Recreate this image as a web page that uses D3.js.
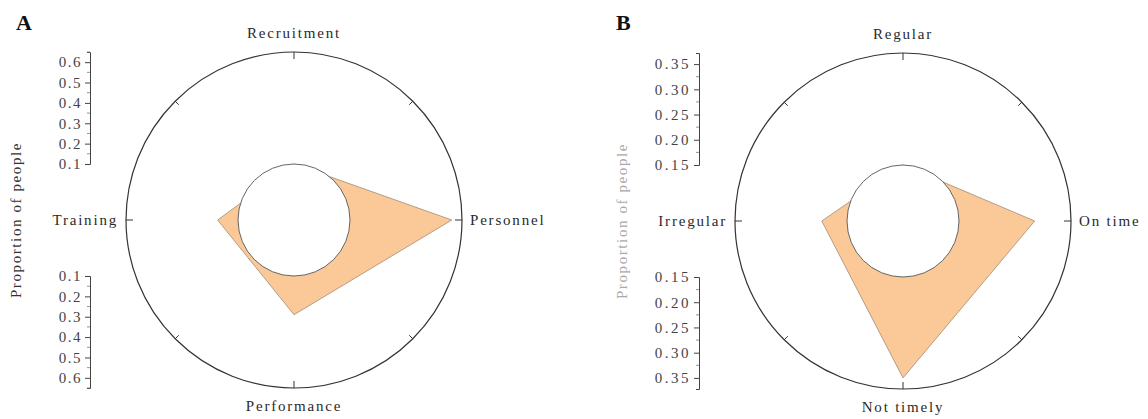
<!DOCTYPE html>
<html>
<head>
<meta charset="utf-8">
<script src="https://cdn.jsdelivr.net/npm/d3@7"></script>
<style>
  body { margin: 0; background: #fff; }
  svg { display: block; }
  text { font-family: "Liberation Serif", "DejaVu Serif", serif; }
</style>
</head>
<body>
<svg width="1148" height="419"></svg>
<script>
// panel A
const catsA = ["Recruitment", "Personnel", "Performance", "Training"];
const valsA = [0.1, 0.6, 0.29, 0.2];
const domainA = [0.1, 0.65];
const ticksA = [0.1, 0.2, 0.3, 0.4, 0.5, 0.6];
const minorA = [0.15, 0.25, 0.35, 0.45, 0.55, 0.65];
const tickFmtA = d3.format(".1f");

// panel B
const catsB = ["Regular", "On time", "Not timely", "Irregular"];
const valsB = [0.15, 0.3, 0.35, 0.2];
const domainB = [0.15, 0.372];
const ticksB = [0.15, 0.20, 0.25, 0.30, 0.35];
const minorB = [0.175, 0.225, 0.275, 0.325];
const tickFmtB = d3.format(".2f");

const svg = d3.select("svg");
const inner = 56, outer = 168;

function drawRadar(opt) {
    const g = svg.append("g");
    const cx = opt.cx, cy = opt.cy;
    const r = d3.scaleLinear().domain(opt.domain).range([inner, outer]);
    const angle = i => i * Math.PI / 2; // clockwise from top

    // panel letter
    g.append("text")
        .attr("x", opt.lx).attr("y", 30)
        .attr("font-size", 22).attr("font-weight", "bold")
        .attr("fill", "#111")
        .text(opt.letter);

    // outer ring
    g.append("circle")
        .attr("cx", cx).attr("cy", cy).attr("r", outer)
        .attr("fill", "none").attr("stroke", "#333").attr("stroke-width", 1.2);

    // ring ticks every 45 deg, pointing inward
    d3.range(8).forEach(k => {
        const a = k * Math.PI / 4;
        const len = k % 2 === 0 ? 7 : 5;
        g.append("line")
            .attr("x1", cx + Math.sin(a) * outer)
            .attr("y1", cy - Math.cos(a) * outer)
            .attr("x2", cx + Math.sin(a) * (outer - len))
            .attr("y2", cy - Math.cos(a) * (outer - len))
            .attr("stroke", "#333").attr("stroke-width", 1);
    });

    // data polygon
    const line = d3.lineRadial()
        .angle((d, i) => angle(i))
        .radius(d => r(d))
        .curve(d3.curveLinearClosed);
    g.append("path")
        .attr("transform", `translate(${cx},${cy})`)
        .attr("d", line(opt.values))
        .attr("fill", "#fbc997")
        .attr("stroke", "#a08c78").attr("stroke-width", 0.8);

    // hole
    g.append("circle")
        .attr("cx", cx).attr("cy", cy).attr("r", inner)
        .attr("fill", "#fff").attr("stroke", "#555").attr("stroke-width", 0.9);

    // category labels
    const lab = [
        { x: cx, y: cy - outer - 14, anchor: "middle" },
        { x: cx + outer + 8, y: cy + 5, anchor: "start" },
        { x: cx, y: cy + outer + 23, anchor: "middle" },
        { x: cx - outer - 8, y: cy + 5, anchor: "end" }
    ];
    opt.cats.forEach((c, i) => {
        g.append("text")
            .attr("x", lab[i].x).attr("y", lab[i].y)
            .attr("text-anchor", lab[i].anchor)
            .attr("font-size", 15).attr("letter-spacing", 1.8)
            .attr("fill", "#2a2a2a")
            .text(c);
    });

    // radial axes: upper and lower
    const yUp = d3.scaleLinear().domain(opt.domain).range([cy - inner, cy - outer]);
    const yDown = d3.scaleLinear().domain(opt.domain).range([cy + inner, cy + outer]);
    [yUp, yDown].forEach(sc => {
        const ax = g.append("g")
            .attr("transform", `translate(${opt.ax},0)`)
            .call(d3.axisLeft(sc).tickValues(opt.ticks).tickFormat(opt.fmt)
                .tickSize(5).tickSizeOuter(3).tickPadding(3));
        ax.select(".domain").attr("stroke", "#444");
        ax.selectAll(".tick line").attr("stroke", "#444");
        ax.selectAll(".tick text")
            .attr("font-family", "Liberation Serif, serif")
            .attr("font-size", 15).attr("letter-spacing", opt.tickSpacing)
            .attr("fill", "#444");
        ax.selectAll(".minor").data(opt.minor).enter().append("line")
            .attr("x1", -3).attr("x2", 0)
            .attr("y1", d => sc(d)).attr("y2", d => sc(d))
            .attr("stroke", "#777").attr("stroke-width", 0.8);
    });

    // axis title
    g.append("text")
        .attr("transform", `translate(${opt.tx},${cy}) rotate(-90)`)
        .attr("text-anchor", "middle")
        .attr("font-size", 15).attr("letter-spacing", 1.6)
        .attr("fill", opt.titleColor)
        .text("Proportion of people");
}

drawRadar({
    letter: "A", lx: 16, cx: 294, cy: 220, ax: 90, tx: 21,
    cats: catsA, values: valsA, domain: domainA, tickSpacing: 1.5,
    ticks: ticksA, minor: minorA, fmt: tickFmtA, titleColor: "#333"
});

drawRadar({
    letter: "B", lx: 616, cx: 903, cy: 221, ax: 699, tx: 627,
    cats: catsB, values: valsB, domain: domainB, tickSpacing: 2.5,
    ticks: ticksB, minor: minorB, fmt: tickFmtB, titleColor: "#aaa"
});
</script>
</body>
</html>
